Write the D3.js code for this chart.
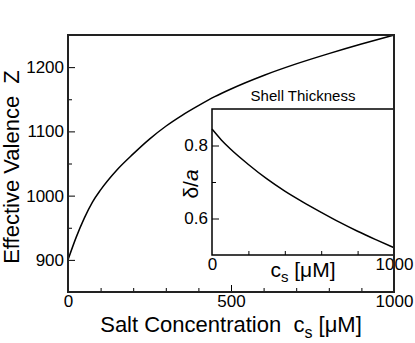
<!DOCTYPE html>
<html>
<head>
<meta charset="utf-8">
<script src="https://cdn.jsdelivr.net/npm/d3@7"></script>
<style>
  body { margin: 0; background: #fff; }
  text { font-family: "Liberation Sans", Arial, sans-serif; fill: #000; white-space: pre; }
</style>
</head>
<body>
<div id="chart"></div>
<script>
// main plot: effective valence vs salt concentration
var saltConc = [0, 25, 50, 75, 100, 150, 200, 250, 300, 350, 400, 450, 500, 600, 700, 800, 900, 1000];
var valence = [900, 935, 965, 990, 1009, 1040, 1065, 1088, 1108, 1125, 1140, 1154, 1166, 1187, 1205, 1221, 1236, 1250];
var xMajor = [0, 500, 1000];
var yMajor = [900, 1000, 1100, 1200];

// inset: shell thickness
var insetConc = [0, 50, 100, 200, 300, 400, 500, 600, 700, 800, 900, 1000];
var thickness = [0.845, 0.816, 0.791, 0.748, 0.709, 0.675, 0.645, 0.617, 0.590, 0.565, 0.542, 0.520];
var insetXMajor = [0, 1000];
var insetYMajor = [0.6, 0.8];

var W = 415, H = 343;
var svg = d3.select("#chart").append("svg").attr("width", W).attr("height", H);

// ---- main panel ----
var x = d3.scaleLinear().domain([0, 1000]).range([68, 394]);
var y = d3.scaleLinear().domain([850, 1250]).range([292, 35]);

function minorAxis(g, axis) {
  g.call(axis);
  g.select(".domain").remove();
  g.selectAll("line").attr("stroke", "#000").attr("stroke-width", 1);
}

svg.append("g").attr("transform", "translate(0," + y(850) + ")")
  .call(function(g) { minorAxis(g, d3.axisBottom(x).tickValues(d3.range(100, 1000, 100)).tickSize(-4).tickFormat("")); });
svg.append("g").attr("transform", "translate(" + x(0) + ",0)")
  .call(function(g) { minorAxis(g, d3.axisLeft(y).tickValues([950, 1050, 1150]).tickSize(-4).tickFormat("")); });

var xAxis = svg.append("g").attr("transform", "translate(0," + y(850) + ")")
  .call(d3.axisBottom(x).tickValues(xMajor).tickSize(-7).tickPadding(3).tickFormat(d3.format("d")));
var yAxis = svg.append("g").attr("transform", "translate(" + x(0) + ",0)")
  .call(d3.axisLeft(y).tickValues(yMajor).tickSize(-7).tickPadding(4).tickFormat(d3.format("d")));
[xAxis, yAxis].forEach(function(g) {
  g.select(".domain").remove();
  g.selectAll("line").attr("stroke", "#000").attr("stroke-width", 1);
  g.selectAll("text").style("font-size", "17px").attr("fill", "#000");
});

svg.append("path")
  .datum(d3.zip(saltConc, valence))
  .attr("fill", "none").attr("stroke", "#000").attr("stroke-width", 1.5)
  .attr("d", d3.line().x(function(d) { return x(d[0]); }).y(function(d) { return y(d[1]); }).curve(d3.curveMonotoneX));

// ---- inset ----
var ix = d3.scaleLinear().domain([0, 1000]).range([212, 394]);
var iy = d3.scaleLinear().domain([0.5, 0.9]).range([255, 109]);

svg.append("g").attr("transform", "translate(0," + iy(0.5) + ")")
  .call(function(g) { minorAxis(g, d3.axisBottom(ix).tickValues([200, 400, 600, 800]).tickSize(-4).tickFormat("")); });
svg.append("g").attr("transform", "translate(" + ix(0) + ",0)")
  .call(function(g) { minorAxis(g, d3.axisLeft(iy).tickValues([0.7]).tickSize(-4).tickFormat("")); });

var ixAxis = svg.append("g").attr("transform", "translate(0," + iy(0.5) + ")")
  .call(d3.axisBottom(ix).tickValues(insetXMajor).tickSize(0).tickPadding(3).tickFormat(d3.format("d")));
var iyAxis = svg.append("g").attr("transform", "translate(" + ix(0) + ",0)")
  .call(d3.axisLeft(iy).tickValues(insetYMajor).tickSize(-7).tickPadding(4).tickFormat(d3.format(".1f")));
[ixAxis, iyAxis].forEach(function(g) {
  g.select(".domain").remove();
  g.selectAll("line").attr("stroke", "#000").attr("stroke-width", 1);
  g.selectAll("text").style("font-size", "17px").attr("fill", "#000");
});

svg.append("path")
  .datum(d3.zip(insetConc, thickness))
  .attr("fill", "none").attr("stroke", "#000").attr("stroke-width", 1.5)
  .attr("d", d3.line().x(function(d) { return ix(d[0]); }).y(function(d) { return iy(d[1]); }).curve(d3.curveMonotoneX));

svg.append("rect")
  .attr("x", ix(0)).attr("y", iy(0.9))
  .attr("width", ix(1000) - ix(0)).attr("height", iy(0.5) - iy(0.9))
  .attr("fill", "none").attr("stroke", "#000").attr("stroke-width", 1.5);

// main frame on top
svg.append("rect")
  .attr("x", x(0)).attr("y", y(1250))
  .attr("width", x(1000) - x(0)).attr("height", y(850) - y(1250))
  .attr("fill", "none").attr("stroke", "#222").attr("stroke-width", 2);

// ---- labels ----
svg.append("text")
  .attr("x", (ix(0) + ix(1000)) / 2).attr("y", 101)
  .attr("text-anchor", "middle").style("font-size", "15px")
  .text("Shell Thickness");

var ixl = svg.append("text")
  .attr("x", (ix(0) + ix(1000)) / 2).attr("y", 277)
  .attr("text-anchor", "middle").style("font-size", "21px");
ixl.append("tspan").text("c");
ixl.append("tspan").attr("dy", 5).style("font-size", "15px").text("s");
ixl.append("tspan").attr("dy", -5).text(" [\u03BCM]");

var iyl = svg.append("text")
  .attr("transform", "translate(198," + (iy(0.7) + 2) + ") rotate(-90)")
  .attr("text-anchor", "middle").style("font-size", "21px");
iyl.append("tspan").text("\u03B4/");
iyl.append("tspan").style("font-style", "italic").text("a");

var xl = svg.append("text")
  .attr("x", x(500)).attr("y", 332)
  .attr("text-anchor", "middle").style("font-size", "22px");
xl.append("tspan").text("Salt Concentration  c");
xl.append("tspan").attr("dy", 6).style("font-size", "16px").text("s");
xl.append("tspan").attr("dy", -6).text(" [\u03BCM]");

svg.append("text")
  .attr("transform", "translate(19," + 167 + ") rotate(-90)")
  .attr("text-anchor", "middle").style("font-size", "22px")
  .text("Effective Valence  Z");
</script>
</body>
</html>
